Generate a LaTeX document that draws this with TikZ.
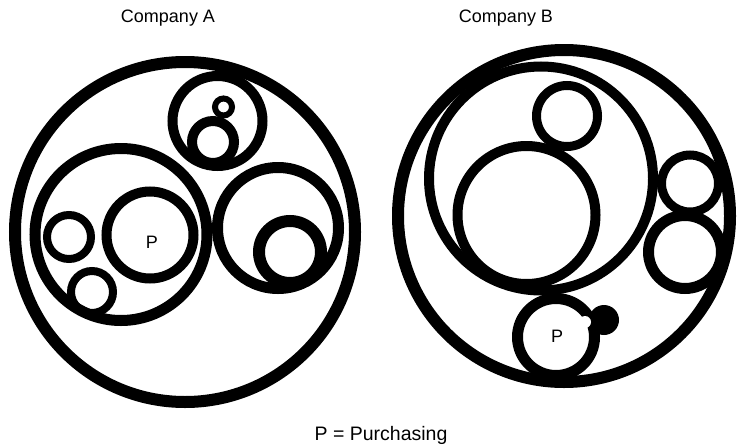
\documentclass[tikz,border=0pt]{standalone}
\usepackage{fontspec}
\setmainfont{Liberation Sans}
\begin{document}
\begin{tikzpicture}[x=1pt,y=-1pt,
  ring/.style={draw=black, line width=#1},
  lbl/.style={font=\fontsize{18}{20}\selectfont, inner sep=0pt, text=black}]
\useasboundingbox (0,0) rectangle (738,447);
\fill[white] (0,0) rectangle (738,447);
% ---------- Company A ----------
\node[lbl] (titleA) at (168,18) {Company A};
\draw[ring=12] (185,232) circle[radius=170pt];
\draw[ring=11] (121,234.5) circle[radius=86pt];
\draw[ring=10] (150,235) circle[radius=43.5pt];
\draw[ring=8] (69,237) circle[radius=22pt];
\draw[ring=8] (92,292) circle[radius=21pt];
\draw[ring=11] (278,228) circle[radius=60.5pt];
\draw[ring=12] (290,252) circle[radius=31pt];
\draw[ring=10] (217.5,121) circle[radius=45pt];
\draw[ring=10] (213,142) circle[radius=21pt];
\draw[ring=6] (223.5,107) circle[radius=8.5pt];
\node[lbl] (pA) at (152,242) {P};
% ---------- Company B ----------
\node[lbl] (titleB) at (506,18) {Company B};
\draw[ring=12] (564,216) circle[radius=166pt];
\draw[ring=10] (541,178.5) circle[radius=112pt];
\draw[ring=9] (567,116) circle[radius=30.5pt];
\draw[ring=10] (526.5,215) circle[radius=69pt];
\draw[ring=9] (690,183.5) circle[radius=28.5pt];
\draw[ring=11] (685,252) circle[radius=36.5pt];
\fill[black] (604,320) circle[radius=15pt];
\draw[ring=11, fill=white] (556,337) circle[radius=38.5pt];
\fill[white] (585,322) circle[radius=6pt];
\node[lbl] (pB) at (557,336) {P};
% ---------- legend ----------
\node[lbl, font=\fontsize{19.5}{22}\selectfont] (legend) at (381,435) {P = Purchasing};
\end{tikzpicture}
\end{document}
